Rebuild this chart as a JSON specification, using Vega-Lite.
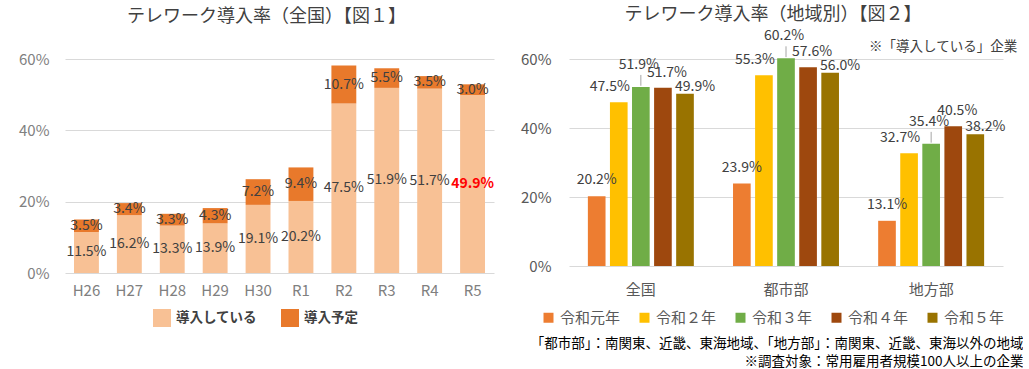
{
  "$schema": "https://vega.github.io/schema/vega-lite/v6.json",
  "background": "white",
  "padding": {"left": 18, "top": 6, "right": 0, "bottom": 0},
  "bounds": "flush",
  "spacing": 75,
  "config": {
    "font": "Noto Sans CJK JP",
    "view": {"stroke": null},
    "axis": {"domain": false, "ticks": false, "gridColor": "#D9D9D9", "gridWidth": 1},
    "title": {"fontSize": 18, "fontWeight": "normal", "color": "#404040", "font": "Noto Sans CJK JP"}
  },
  "resolve": {"scale": {"color": "independent"}, "legend": {"color": "independent"}},
  "hconcat": [
    {
      "width": 429,
      "height": 214,
      "title": {"text": "テレワーク導入率（全国）【図１】", "dx": -13, "offset": 26},
      "data": {
        "values": [
          {"year": "H26", "type": "導入している", "rate": 0.115},
          {"year": "H26", "type": "導入予定", "rate": 0.035},
          {"year": "H27", "type": "導入している", "rate": 0.162},
          {"year": "H27", "type": "導入予定", "rate": 0.034},
          {"year": "H28", "type": "導入している", "rate": 0.133},
          {"year": "H28", "type": "導入予定", "rate": 0.033},
          {"year": "H29", "type": "導入している", "rate": 0.139},
          {"year": "H29", "type": "導入予定", "rate": 0.043},
          {"year": "H30", "type": "導入している", "rate": 0.191},
          {"year": "H30", "type": "導入予定", "rate": 0.072},
          {"year": "R1", "type": "導入している", "rate": 0.202},
          {"year": "R1", "type": "導入予定", "rate": 0.094},
          {"year": "R2", "type": "導入している", "rate": 0.475},
          {"year": "R2", "type": "導入予定", "rate": 0.107},
          {"year": "R3", "type": "導入している", "rate": 0.519},
          {"year": "R3", "type": "導入予定", "rate": 0.055},
          {"year": "R4", "type": "導入している", "rate": 0.517},
          {"year": "R4", "type": "導入予定", "rate": 0.035},
          {"year": "R5", "type": "導入している", "rate": 0.499},
          {"year": "R5", "type": "導入予定", "rate": 0.030}
        ]
      },
      "encoding": {
        "x": {
          "field": "year", "type": "nominal", "sort": null,
          "scale": {"paddingInner": 0.42, "paddingOuter": 0.21},
          "axis": {"title": null, "labelAngle": 0, "labelFontSize": 15, "labelColor": "#808080", "labelPadding": 10, "grid": false}
        }
      },
      "layer": [
        {
          "mark": {"type": "bar"},
          "encoding": {
            "y": {
              "field": "rate", "type": "quantitative", "stack": "zero",
              "scale": {"domain": [0, 0.6], "nice": false},
              "axis": {"title": null, "values": [0, 0.2, 0.4, 0.6], "format": ".0%", "labelFontSize": 15, "labelColor": "#808080", "labelPadding": 16, "grid": true}
            },
            "order": {"field": "type", "sort": "ascending"},
            "color": {
              "field": "type", "type": "nominal",
              "scale": {"domain": ["導入している", "導入予定"], "range": ["#F8C195", "#E8792B"]},
              "legend": {
                "title": null, "orient": "none", "legendX": 88, "legendY": 250, "direction": "horizontal",
                "symbolType": "square", "symbolSize": 324, "symbolStrokeWidth": 0, "symbolOpacity": 1,
                "labelFontSize": 13.5, "labelFontWeight": "bold", "labelColor": "#404040", "labelOffset": 5, "columnPadding": 24
              }
            }
          }
        },
        {
          "mark": {"type": "text", "fontSize": 14, "color": "#404040", "baseline": "middle"},
          "encoding": {
            "y": {
              "field": "rate", "type": "quantitative", "stack": "zero", "bandPosition": 0.5,
              "scale": {"domain": [0, 0.6], "nice": false},
              "axis": {"title": null, "values": [0, 0.2, 0.4, 0.6], "format": ".0%", "labelFontSize": 15, "labelColor": "#808080", "labelPadding": 16, "grid": true}
            },
            "detail": {"field": "type"},
            "order": {"field": "type", "sort": "ascending"},
            "text": {"field": "rate", "type": "quantitative", "format": ".1%"},
            "opacity": {"condition": {"test": "datum.year === 'R5' && datum.type === '導入している'", "value": 0}, "value": 1}
          }
        },
        {
          "transform": [{"filter": "datum.year === 'R5' && datum.type === '導入している'"}],
          "mark": {"type": "text", "fontSize": 14, "fontWeight": "bold", "color": "#FF0000", "baseline": "middle"},
          "encoding": {
            "y": {
              "field": "rate", "type": "quantitative", "stack": "zero", "bandPosition": 0.5,
              "scale": {"domain": [0, 0.6], "nice": false},
              "axis": {"title": null, "values": [0, 0.2, 0.4, 0.6], "format": ".0%", "labelFontSize": 15, "labelColor": "#808080", "labelPadding": 16, "grid": true}
            },
            "text": {"field": "rate", "type": "quantitative", "format": ".1%"}
          }
        }
      ]
    },
    {
      "width": 434,
      "height": 207,
      "title": {"text": "テレワーク導入率（地域別）【図２】", "dx": -13, "offset": 5},
      "data": {
        "values": [
          {"region": "全国", "year": "令和元年", "rate": 0.202},
          {"region": "全国", "year": "令和２年", "rate": 0.475},
          {"region": "全国", "year": "令和３年", "rate": 0.519},
          {"region": "全国", "year": "令和４年", "rate": 0.517},
          {"region": "全国", "year": "令和５年", "rate": 0.499},
          {"region": "都市部", "year": "令和元年", "rate": 0.239},
          {"region": "都市部", "year": "令和２年", "rate": 0.553},
          {"region": "都市部", "year": "令和３年", "rate": 0.602},
          {"region": "都市部", "year": "令和４年", "rate": 0.576},
          {"region": "都市部", "year": "令和５年", "rate": 0.560},
          {"region": "地方部", "year": "令和元年", "rate": 0.131},
          {"region": "地方部", "year": "令和２年", "rate": 0.327},
          {"region": "地方部", "year": "令和３年", "rate": 0.354},
          {"region": "地方部", "year": "令和４年", "rate": 0.405},
          {"region": "地方部", "year": "令和５年", "rate": 0.382}
        ]
      },
      "layer": [
        {
          "mark": {"type": "bar"},
          "encoding": {
            "x": {
              "field": "region", "type": "nominal", "sort": null,
              "scale": {"paddingInner": 0.27, "paddingOuter": 0.13},
              "axis": {
                "title": ["「都市部」：南関東、近畿、東海地域、「地方部」：南関東、近畿、東海以外の地域", "※調査対象：常用雇用者規模100人以上の企業"],
                "titleFontSize": 13.5, "titleFontWeight": "normal", "titleColor": "#000000", "titleAlign": "right", "titleAnchor": "end",
                "titleX": 454, "titleY": 70, "titleBaseline": "top", "titleLineHeight": 18,
                "labelAngle": 0, "labelFontSize": 15, "labelColor": "#595959", "labelPadding": 16, "grid": false
              }
            },
            "xOffset": {"field": "year", "type": "nominal", "sort": null, "scale": {"paddingInner": 0.2, "paddingOuter": 0}},
            "y": {
              "field": "rate", "type": "quantitative",
              "scale": {"domain": [0, 0.6], "nice": false},
              "axis": {"title": null, "values": [0, 0.2, 0.4, 0.6], "format": ".0%", "labelFontSize": 15, "labelColor": "#595959", "labelPadding": 18, "grid": true}
            },
            "color": {
              "field": "year", "type": "nominal", "sort": null,
              "scale": {"domain": ["令和元年", "令和２年", "令和３年", "令和４年", "令和５年"], "range": ["#ED7D31", "#FFC000", "#70AD47", "#9E480E", "#997300"]},
              "legend": {
                "title": null, "orient": "none", "legendX": -28, "legendY": 251, "direction": "horizontal",
                "symbolType": "square", "symbolSize": 100, "symbolStrokeWidth": 0, "symbolOpacity": 1,
                "labelFontSize": 15, "labelColor": "#595959", "labelOffset": 4, "columnPadding": 16
              }
            }
          }
        },
        {
          "transform": [{"filter": {"field": "year", "equal": "令和元年"}}],
          "mark": {"type": "text", "fontSize": 14, "color": "#404040", "baseline": "middle", "dx": 0, "dy": -16},
          "encoding": {
            "x": {"field": "region", "type": "nominal", "sort": null},
            "xOffset": {"field": "year", "type": "nominal", "sort": null},
            "y": {"field": "rate", "type": "quantitative"},
            "text": {"field": "rate", "type": "quantitative", "format": ".1%"}
          }
        },
        {
          "transform": [{"filter": {"field": "year", "equal": "令和２年"}}],
          "mark": {"type": "text", "fontSize": 14, "color": "#404040", "baseline": "middle", "dx": -9, "dy": -15},
          "encoding": {
            "x": {"field": "region", "type": "nominal", "sort": null},
            "xOffset": {"field": "year", "type": "nominal", "sort": null},
            "y": {"field": "rate", "type": "quantitative"},
            "text": {"field": "rate", "type": "quantitative", "format": ".1%"}
          }
        },
        {
          "transform": [{"filter": {"field": "year", "equal": "令和３年"}}],
          "mark": {"type": "text", "fontSize": 14, "color": "#404040", "baseline": "middle", "dx": -2, "dy": -22},
          "encoding": {
            "x": {"field": "region", "type": "nominal", "sort": null},
            "xOffset": {"field": "year", "type": "nominal", "sort": null},
            "y": {"field": "rate", "type": "quantitative"},
            "text": {"field": "rate", "type": "quantitative", "format": ".1%"}
          }
        },
        {
          "transform": [{"filter": {"field": "year", "equal": "令和３年"}}],
          "mark": {"type": "point", "shape": "M0,-0.1L0,-1", "size": 576, "filled": false, "stroke": "#A6A6A6", "strokeWidth": 1, "opacity": 1},
          "encoding": {
            "x": {"field": "region", "type": "nominal", "sort": null},
            "xOffset": {"field": "year", "type": "nominal", "sort": null},
            "y": {"field": "rate", "type": "quantitative"}
          }
        },
        {
          "transform": [{"filter": {"field": "year", "equal": "令和４年"}}],
          "mark": {"type": "text", "fontSize": 14, "color": "#404040", "baseline": "middle", "dx": 4, "dy": -15},
          "encoding": {
            "x": {"field": "region", "type": "nominal", "sort": null},
            "xOffset": {"field": "year", "type": "nominal", "sort": null},
            "y": {"field": "rate", "type": "quantitative"},
            "text": {"field": "rate", "type": "quantitative", "format": ".1%"}
          }
        },
        {
          "transform": [{"filter": {"field": "year", "equal": "令和５年"}}],
          "mark": {"type": "text", "fontSize": 14, "color": "#404040", "baseline": "middle", "dx": 10, "dy": -7},
          "encoding": {
            "x": {"field": "region", "type": "nominal", "sort": null},
            "xOffset": {"field": "year", "type": "nominal", "sort": null},
            "y": {"field": "rate", "type": "quantitative"},
            "text": {"field": "rate", "type": "quantitative", "format": ".1%"}
          }
        },
        {
          "data": {"values": [{"note": "※「導入している」企業"}]},
          "mark": {"type": "text", "fontSize": 13.5, "color": "#404040", "align": "right", "baseline": "middle", "dx": 86},
          "encoding": {
            "x": {"datum": "地方部", "type": "nominal"},
            "y": {"datum": 0.635, "type": "quantitative"},
            "text": {"field": "note", "type": "nominal"}
          }
        }
      ]
    }
  ]
}
